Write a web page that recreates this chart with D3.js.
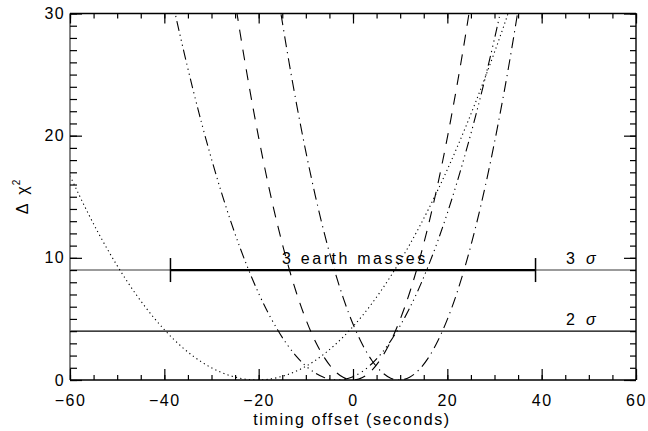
<!DOCTYPE html>
<html>
<head>
<meta charset="utf-8">
<script src="https://cdn.jsdelivr.net/npm/d3@7"></script>
<style>
  body { margin: 0; background: #fff; }
  svg { display: block; }
  text { font-family: "Liberation Sans", Arial, sans-serif; fill: #000; }
</style>
</head>
<body>
<svg class="chart" width="648" height="431"></svg>
<script>
// timing offsets (s) and delta chi^2
let tDotted   = [-60, -56, -52, -48, -44, -40, -36, -32, -28, -24, -20, -16, -12, -8, -4, 0, 4, 8, 12, 16, 20, 24, 28, 32, 36];
let chiDotted = [16.72, 13.52, 10.66, 8.14, 5.96, 4.12, 2.61, 1.45, 0.63, 0.15, 0.00, 0.20, 0.73, 1.60, 2.82, 4.37, 6.26, 8.50, 11.07, 13.98, 17.23, 20.82, 24.75, 29.01, 33.62];

let tDashed   = [-26, -24, -22, -20, -18, -16, -14, -12, -10, -8, -6, -4, -2, 0, 2, 4, 6, 8, 10, 12, 14, 16, 18, 20, 22, 24, 26];
let chiDashed = [33.53, 28.57, 24.01, 19.84, 16.07, 12.70, 9.72, 7.14, 4.96, 3.17, 1.79, 0.79, 0.20, 0.00, 0.20, 0.79, 1.79, 3.17, 4.96, 7.14, 9.72, 12.70, 16.07, 19.84, 24.01, 28.57, 33.53];

let tDashDot   = [-16, -14, -12, -10, -8, -6, -4, -2, 0, 2, 4, 6, 8, 10, 12, 14, 16, 18, 20, 22, 24, 26, 28, 30, 32, 34, 36];
let chiDashDot = [31.73, 27.00, 22.65, 18.69, 15.10, 11.90, 9.08, 6.64, 4.58, 2.90, 1.60, 0.69, 0.15, 0.00, 0.23, 0.84, 1.83, 3.21, 4.96, 7.09, 9.61, 12.51, 15.79, 19.45, 23.49, 27.92, 32.72];

let tDash3Dot   = [-40, -38, -36, -34, -32, -30, -28, -26, -24, -22, -20, -18, -16, -14, -12, -10, -8, -6, -4, -2, 0, 2, 4, 6, 8, 10, 12, 14, 16, 18, 20, 22, 24, 26, 28, 30, 32];
let chiDash3Dot = [34.14, 30.52, 27.11, 23.90, 20.89, 18.09, 15.48, 13.08, 10.88, 8.89, 7.09, 5.50, 4.11, 2.92, 1.94, 1.15, 0.57, 0.19, 0.01, 0.04, 0.27, 0.70, 1.33, 2.16, 3.20, 4.44, 5.88, 7.52, 9.37, 11.41, 13.66, 16.11, 18.77, 21.62, 24.68, 27.94, 31.41];

// confidence levels and the 3 earth mass error bar
let sigmaLevels = [9, 4];
let sigmaLabels = ["3", "2"];
let barRange = [-38.7, 38.7];
let barLevel = 9;

let xTicks = [-60, -40, -20, 0, 20, 40, 60];
let yTicks = [0, 10, 20, 30];

let svg = d3.select(".chart");

let x = d3.scaleLinear().domain([-60, 60]).range([70, 636]);
let y = d3.scaleLinear().domain([0, 30]).range([380, 13.5]);

let x0 = x.range()[0], x1 = x.range()[1];
let yb = y.range()[0], yt = y.range()[1];

svg.append("clipPath").attr("id", "plotclip")
  .append("rect").attr("x", x0).attr("y", yt).attr("width", x1 - x0).attr("height", yb - yt);

// sigma lines
svg.append("line")
  .attr("x1", x0).attr("x2", x1)
  .attr("y1", y(sigmaLevels[0])).attr("y2", y(sigmaLevels[0]))
  .attr("stroke", "#7a7a7a").attr("stroke-width", 1.6);
svg.append("line")
  .attr("x1", x0).attr("x2", x1)
  .attr("y1", y(sigmaLevels[1])).attr("y2", y(sigmaLevels[1]))
  .attr("stroke", "#000").attr("stroke-width", 1.3);

// error bar
let bar = svg.append("g").attr("stroke", "#000");
bar.append("line")
  .attr("x1", x(barRange[0])).attr("x2", x(barRange[1]))
  .attr("y1", y(barLevel)).attr("y2", y(barLevel))
  .attr("stroke-width", 2.2);
barRange.forEach(function(v) {
  bar.append("line")
    .attr("x1", x(v)).attr("x2", x(v))
    .attr("y1", y(barLevel) - 12).attr("y2", y(barLevel) + 12)
    .attr("stroke-width", 1.5);
});

// curves
let line = d3.line().x(d => x(d[0])).y(d => y(d[1])).curve(d3.curveNatural);
let curves = [
  {t: tDotted,   v: chiDotted,   dash: "1.2,3.2"},
  {t: tDashed,   v: chiDashed,   dash: "11,9"},
  {t: tDashDot,  v: chiDashDot,  dash: "11,5,1.2,5"},
  {t: tDash3Dot, v: chiDash3Dot, dash: "10,4,1.2,4,1.2,4,1.2,4"}
];
let plot = svg.append("g").attr("clip-path", "url(#plotclip)");
curves.forEach(function(c) {
  plot.append("path")
    .datum(d3.zip(c.t, c.v))
    .attr("d", line)
    .attr("fill", "none")
    .attr("stroke", "#000")
    .attr("stroke-width", 1.1)
    .attr("stroke-dasharray", c.dash);
});

// frame
let frame = svg.append("g").attr("fill", "none");
frame.append("line").attr("x1", x0).attr("x2", x1).attr("y1", yb).attr("y2", yb).attr("stroke", "#000").attr("stroke-width", 1.4);
frame.append("line").attr("x1", x0).attr("x2", x1).attr("y1", yt).attr("y2", yt).attr("stroke", "#000").attr("stroke-width", 1.4);
frame.append("line").attr("x1", x0).attr("x2", x0).attr("y1", yt).attr("y2", yb).attr("stroke", "#666").attr("stroke-width", 1.6);
frame.append("line").attr("x1", x1).attr("x2", x1).attr("y1", yt).attr("y2", yb).attr("stroke", "#000").attr("stroke-width", 1.4);

// axes, major ticks with labels plus minor ticks
let fmt = d => d < 0 ? "\u2212" + Math.abs(d) : String(d);
let xMinor = d3.range(-60, 61, 5);
let yMinor = d3.range(0, 31, 1);

let xb = svg.append("g").attr("transform", translate(0, yb))
  .call(d3.axisBottom(x).tickValues(xMinor).tickSize(-5).tickFormat(""));
let xbMaj = svg.append("g").attr("transform", translate(0, yb))
  .call(d3.axisBottom(x).tickValues(xTicks).tickSize(-11).tickPadding(15).tickFormat(fmt));
let xtop = svg.append("g").attr("transform", translate(0, yt))
  .call(d3.axisTop(x).tickValues(xMinor).tickSize(-5).tickFormat(""));
let xtopMaj = svg.append("g").attr("transform", translate(0, yt))
  .call(d3.axisTop(x).tickValues(xTicks).tickSize(-10).tickFormat(""));
let yl = svg.append("g").attr("transform", translate(x0, 0))
  .call(d3.axisLeft(y).tickValues(yMinor).tickSize(-7).tickFormat(""));
let ylMaj = svg.append("g").attr("transform", translate(x0, 0))
  .call(d3.axisLeft(y).tickValues(yTicks).tickSize(-12).tickPadding(8).tickFormat(fmt));
let yr = svg.append("g").attr("transform", translate(x1, 0))
  .call(d3.axisRight(y).tickValues(yMinor).tickSize(-6).tickFormat(""));
let yrMaj = svg.append("g").attr("transform", translate(x1, 0))
  .call(d3.axisRight(y).tickValues(yTicks).tickSize(-12).tickFormat(""));

[xb, xbMaj, xtop, xtopMaj, yl, ylMaj, yr, yrMaj].forEach(function(g) {
  g.select(".domain").remove();
  g.selectAll(".tick line").attr("stroke", "#000").attr("stroke-width", 1.2);
  g.selectAll(".tick text")
    .style("font-family", "'Liberation Sans', Arial, sans-serif")
    .style("font-size", "16px")
    .style("letter-spacing", "1.5px")
    .attr("fill", "#000");
});
ylMaj.selectAll(".tick text").attr("dx", "0.2em");

// labels
svg.append("text")
  .attr("x", 352).attr("y", 425)
  .attr("text-anchor", "middle")
  .style("font-size", "16px")
  .style("letter-spacing", "1.6px")
  .text("timing offset (seconds)");

let ylab = svg.append("text")
  .attr("transform", translate(28, 197) + " rotate(-90)")
  .attr("text-anchor", "middle")
  .style("font-size", "16px");
ylab.append("tspan").text("\u0394\u00a0\u00a0\u03c7");
ylab.append("tspan").attr("dy", -8).attr("dx", 1).style("font-size", "10px").text("2");

svg.append("text")
  .attr("x", x(0) + 2).attr("y", y(barLevel) - 6)
  .attr("text-anchor", "middle")
  .style("font-size", "16px")
  .style("letter-spacing", "2.6px")
  .text("3 earth masses");

sigmaLevels.forEach(function(v, i) {
  let t = svg.append("text")
    .attr("x", 566).attr("y", y(v) - 6)
    .style("font-size", "16px");
  t.append("tspan").text(sigmaLabels[i]);
  t.append("tspan").attr("dx", 11).style("font-style", "italic").text("\u03c3");
});

function translate(x, y) {
  return 'translate(' + x + ',' + y + ')';
}
</script>
</body>
</html>
